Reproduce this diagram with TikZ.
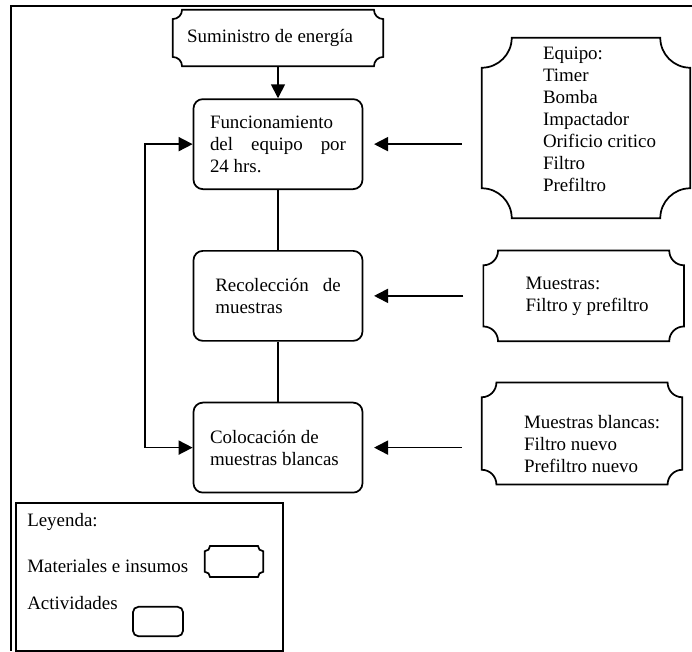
\documentclass[tikz,border=0pt]{standalone}
\usepackage{fontspec}
\setmainfont{Liberation Serif}
\usetikzlibrary{arrows.meta, positioning}

\tikzset{
  linea/.style={line width=1.3pt},
  flecha/.style={linea, -{Triangle[length=10.5pt, width=10.5pt]}},
  doble/.style={linea, {Triangle[length=10.5pt, width=10.5pt]}-{Triangle[length=10.5pt, width=10.5pt]}},
  actividad/.style={linea, draw, rounded corners=7pt, minimum width=126.75pt, minimum height=67.5pt, align=justify, text width=102pt},
  insumo/.style={inner sep=0pt},
  texto/.style={inner sep=0pt, align=left},
}
% contorno con esquinas concavas
\newcommand\contorno[2]{%
  \draw[linea] ([yshift=-#2]#1.north west) arc[start angle=270, end angle=360, radius=#2]
    -- ([xshift=-#2]#1.north east) arc[start angle=180, end angle=270, radius=#2]
    -- ([yshift=#2]#1.south east) arc[start angle=90, end angle=180, radius=#2]
    -- ([xshift=#2]#1.south west) arc[start angle=0, end angle=90, radius=#2]
    -- cycle;}

\begin{document}
\begin{tikzpicture}[x=0.75pt, y=-0.75pt, font=\fontsize{14.2}{16.5}\selectfont]
  \useasboundingbox (0,0) rectangle (692,651);
  % marco
  \draw[linea] (10,6) -- (692,6);
  \draw[linea] (11,6) -- (11,651);

  % actividades
  \node[insumo, minimum width=157.5pt, minimum height=42pt] (sumi) at (278,38) {\hspace*{-12pt}Suministro de energía};
  \node[actividad] (func) [below=24pt of sumi] {Funcionamiento\\ del equipo por\linebreak 24 hrs.};
  \node[actividad, text width=94pt] (reco) [below=45pt of func] {Recolección de\linebreak muestras};
  \node[actividad] (colo) [below=45pt of reco] {Colocación de\\ muestras blancas};

  % materiales e insumos
  \node[insumo, minimum width=156pt, minimum height=135pt] (equipo) at (586,128) {};
  \node[insumo, minimum width=150pt, minimum height=67.5pt] (muestras) [right=90pt of reco] {};
  \node[insumo, minimum width=150pt, minimum height=76pt] (blancas) at (582,433.5) {};
  \contorno{sumi}{7pt}
  \contorno{equipo}{22.5pt}
  \contorno{muestras}{11pt}
  \contorno{blancas}{11pt}
  \node[texto] (equipo-t) [below right=6.75pt and 45.75pt of equipo.north west]
    {Equipo:\\ Timer\\ Bomba\\ Impactador\\ Orificio critico\\ Filtro\\ Prefiltro};
  \node[texto] (muestras-t) [below right=19.5pt and 31.5pt of muestras.north west]
    {Muestras:\\ Filtro y prefiltro};
  \node[texto] (blancas-t) [below right=24.75pt and 31.5pt of blancas.north west]
    {Muestras blancas:\\ Filtro nuevo\\ Prefiltro nuevo};

  % conectores
  \draw[flecha] (sumi) -- (func);
  \draw[linea] (func) -- (reco);
  \draw[linea] (reco) -- (colo);
  \draw[doble] (func.west) -- ++(-48,0) |- (colo.west);
  \draw[flecha, shorten <=15pt, shorten >=8pt] (equipo.west |- func.east) -- (func.east);
  \draw[flecha, shorten <=15pt, shorten >=8pt] (muestras.west) -- (reco.east);
  \draw[flecha, shorten <=15pt, shorten >=8pt] (blancas.west |- colo.east) -- (colo.east);

  % leyenda
  \node[draw, linea, inner sep=0pt, minimum width=200.25pt, minimum height=111pt, anchor=north west] (leyenda) at (15,502) {};
  \node[texto, anchor=west] (ley) at (27,522) {Leyenda:};
  \node[texto, anchor=west] (mat) at (27,566) {Materiales e insumos};
  \node[texto, anchor=west] (act) at (27,603) {Actividades};
  \node[insumo, minimum width=43.5pt, minimum height=23pt] (ley-ins) at (234,561.5) {};
  \contorno{ley-ins}{4pt}
  \node[draw, linea, rounded corners=4pt, minimum width=37.5pt, minimum height=22pt] (ley-act) at (158,621.5) {};
\end{tikzpicture}
\end{document}
